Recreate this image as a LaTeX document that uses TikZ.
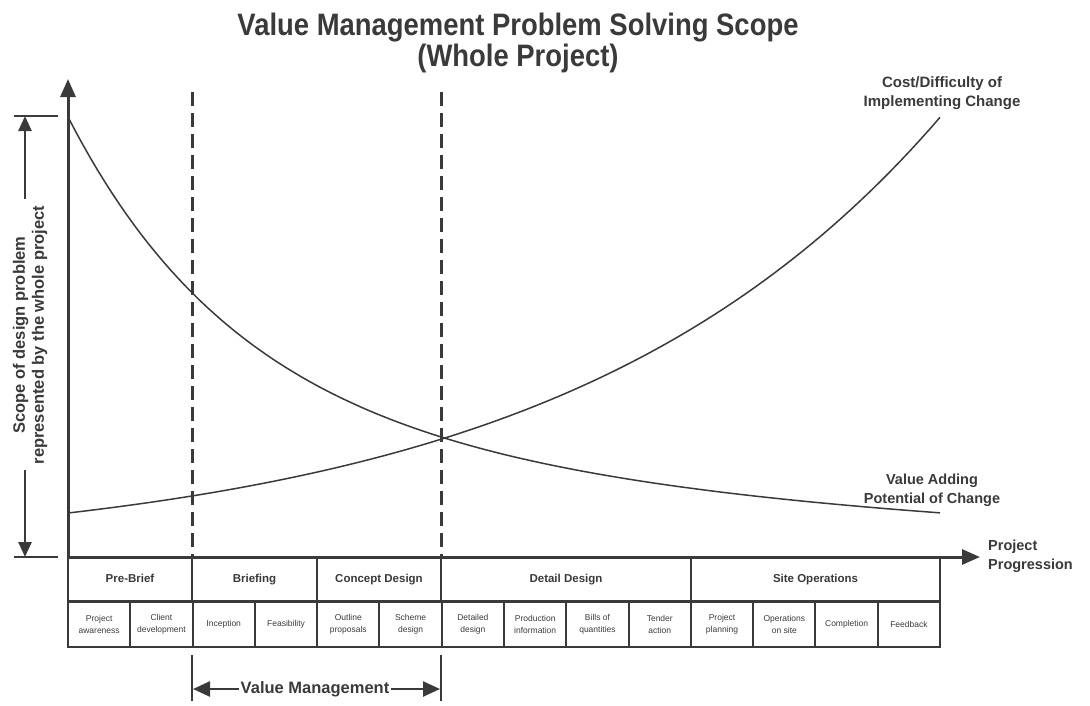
\documentclass[tikz,border=0pt]{standalone}
\usepackage{fontspec}
\usepackage{graphicx}
\setmainfont{Liberation Sans}
\usetikzlibrary{arrows.meta}
\definecolor{ink}{HTML}{3A3A3A}
\begin{document}
\begin{tikzpicture}[x=1pt,y=-1pt, color=ink, text=ink,
  axisline/.style={line width=3pt, -{Triangle[length=18pt,width=15pt]}},
  dimtick/.style={line width=2.5pt},
  dimarrow/.style={line width=2.5pt, -{Triangle[length=15pt,width=13pt]}},
  vmarrow/.style={line width=2.5pt, -{Triangle[length=17pt,width=15pt]}},
  phaseline/.style={line width=3pt, dash pattern=on 14pt off 7pt},
  curve/.style={line width=1.5pt},
  phase/.style={draw, line width=2pt, minimum height=44pt, inner sep=0pt, text height=8.5pt, text depth=2.5pt, font=\bfseries\fontsize{11.5}{14}\selectfont},
  stage/.style={draw, line width=2pt, minimum height=45pt, minimum width=62.29pt, inner sep=0pt, align=center, font=\fontsize{8.5}{12}\selectfont},
  lbl/.style={font=\bfseries\fontsize{14.5}{19}\selectfont, align=center, inner sep=0pt},
  titletext/.style={font=\bfseries\fontsize{31}{31}\selectfont, inner sep=0pt, anchor=base}]
\useasboundingbox (0,0) rectangle (1090,705);
% title
\node[titletext] (title1) at (518,35) {\scalebox{0.885}[1]{Value Management Problem Solving Scope}};
\node[titletext] (title2) at (518,66) {\scalebox{0.885}[1]{(Whole Project)}};
% axes
\coordinate (O) at (68,557);
\coordinate (ytop) at (68,79);
\coordinate (xend) at (980,557);
\draw[axisline] (O) -- (ytop);
\draw[axisline] (O) -- (xend);
% phase dashed lines
\coordinate (d1t) at (192,92); \coordinate (d1b) at (192,557);
\coordinate (d2t) at (441,92); \coordinate (d2b) at (441,557);
\draw[phaseline] (d1t) -- (d1b);
\draw[phaseline] (d2t) -- (d2b);
% left dimension
\coordinate (tkt1) at (14,116); \coordinate (tkt2) at (58,116);
\coordinate (tkb1) at (14,557); \coordinate (tkb2) at (58,557);
\draw[dimtick] (tkt1) -- (tkt2);
\draw[dimtick] (tkb1) -- (tkb2);
\node[lbl, rotate=90, font=\bfseries\fontsize{16.5}{19}\selectfont] (scope) at (30,335) {Scope of design problem\\represented by the whole project};
\coordinate (dimtop) at (25,116); \coordinate (dimbot) at (25,557);
\coordinate (dimtopstart) at (25,199); \coordinate (dimbotstart) at (25,470);
\draw[dimarrow] (dimtopstart) -- (dimtop);
\draw[dimarrow] (dimbotstart) -- (dimbot);
% curves
\draw[curve] plot[domain=68:940, samples=120] (\x, {557-278*exp(-0.00612*(\x-68))-162*exp(-0.00152*(\x-68))});
\draw[curve] plot[domain=68:940, samples=90] (\x, {557-44*exp(0.002635*(\x-68))});
% curve labels
\node[lbl, font=\bfseries\fontsize{15}{19}\selectfont] (cost) at (942,93) {Cost/Difficulty of\\Implementing Change};
\node[lbl] (value) at (932,490) {Value Adding\\Potential of Change};
\node[lbl, anchor=west, align=left] (prog) at (988,556) {Project\\Progression};
% table row 1
\node[phase, minimum width=124pt] (pb) at (130,579) {Pre-Brief};
\node[phase, minimum width=125pt] (br) at (254.5,579) {Briefing};
\node[phase, minimum width=124pt] (cd) at (379,579) {Concept Design};
\node[phase, minimum width=250pt] (dd) at (566,579) {Detail Design};
\node[phase, minimum width=249pt] (so) at (815.5,579) {Site Operations};
% table row 2
\foreach \i/\t in {1/{Project\\awareness},2/{Client\\development},3/{Inception},4/{Feasibility},5/{Outline\\proposals},6/{Scheme\\design},7/{Detailed\\design},8/{Production\\information},9/{Bills of\\quantities},10/{Tender\\action},11/{Project\\planning},12/{Operations\\on site},13/{Completion},14/{Feedback}}{
  \node[stage] (s\i) at ({68+62.29*(\i-0.5)},624) {\t};
}
% value management
\coordinate (vb1t) at (192,655); \coordinate (vb1b) at (192,701);
\coordinate (vb2t) at (441,655); \coordinate (vb2b) at (441,701);
\draw[dimtick] (vb1t) -- (vb1b);
\draw[dimtick] (vb2t) -- (vb2b);
\node[font=\bfseries\fontsize{16.5}{19}\selectfont, inner sep=2pt] (vm) at (315,689) {Value Management};
\coordinate (vmL) at (193,689); \coordinate (vmR) at (440,689);
\draw[vmarrow] (vm.west) -- (vmL);
\draw[vmarrow] (vm.east) -- (vmR);
\end{tikzpicture}
\end{document}
